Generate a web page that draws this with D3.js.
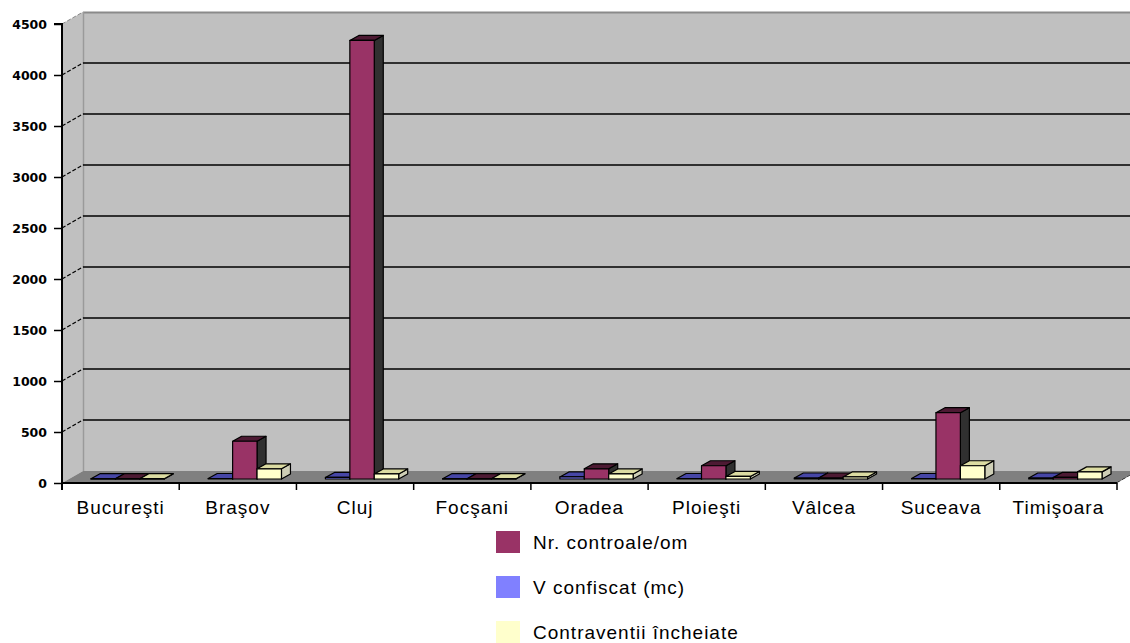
<!DOCTYPE html>
<html><head><meta charset="utf-8">
<script src="https://cdn.jsdelivr.net/npm/d3@7"></script>
<style>
html,body{margin:0;padding:0;background:#fff;}
svg{display:block;}
.cat{font-family:"Liberation Sans",Arial,sans-serif;font-size:19px;letter-spacing:1px;fill:#000;}
.ytl{font-family:"DejaVu Sans",sans-serif;font-weight:bold;font-size:12.5px;fill:#000;}
</style></head>
<body>
<svg id="c" width="1130" height="643"></svg>
<script>
const categories = ["Bucureşti","Braşov","Cluj","Focşani","Oradea","Ploieşti","Vâlcea","Suceava","Timişoara"];
const barSeries = ["V confiscat (mc)","Nr. controale/om","Contraventii încheiate"];
const vConfiscat   = [3, 5, 15, 3, 20, 5, 10, 5, 10];
const nrControale  = [3, 370, 4300, 3, 100, 130, 10, 650, 15];
const contraventii = [3, 100, 50, 3, 50, 25, 20, 130, 70];
const legendOrder = ["Nr. controale/om","V confiscat (mc)","Contraventii încheiate"];
const yTicks = [0,500,1000,1500,2000,2500,3000,3500,4000,4500];

const seriesValues = {"V confiscat (mc)":vConfiscat,"Nr. controale/om":nrControale,"Contraventii încheiate":contraventii};
const colors = {
  "V confiscat (mc)":      {front:"#8080ff", top:"#4646a6", side:"#3a3a70"},
  "Nr. controale/om":      {front:"#993366", top:"#4d1a33", side:"#303030"},
  "Contraventii încheiate":{front:"#ffffcc", top:"#dcdca2", side:"#cfcfb6"}
};

const svg = d3.select("#c");
const x0 = 62, x1 = 1117, yBase = 483, yTopAx = 24;
const DX = 21, DY = -12;           // full depth offset
const fBar = 1/3;                  // bar front plane depth fraction
const bdx = 9, bdy = -5;           // bar depth

const x = d3.scaleBand().domain(categories).range([x0, x1]).paddingInner(0).paddingOuter(0);
const y = d3.scaleLinear().domain([0,4500]).range([yBase, yTopAx]);
const xs = d3.scaleBand().domain(barSeries).range([0, x.bandwidth()]).paddingInner(0).paddingOuter(0.9);

const pts = a => a.map(p=>p.join(",")).join(" ");

// back wall
svg.append("polygon").attr("points", pts([[x0+DX,yTopAx+DY],[1145,yTopAx+DY],[1145,yBase+DY],[x0+DX,yBase+DY]]))
  .attr("fill","#c0c0c0");
// side wall
svg.append("polygon").attr("points", pts([[x0,yTopAx],[x0+DX,yTopAx+DY],[x0+DX,yBase+DY],[x0,yBase]]))
  .attr("fill","#c0c0c0");
// back wall top border & left edge
svg.append("line").attr("x1",x0+DX).attr("x2",1145).attr("y1",yTopAx+DY+0.5).attr("y2",yTopAx+DY+0.5)
  .attr("stroke","#8a8a8a").attr("stroke-width",2);
svg.append("line").attr("x1",x0+DX+0.5).attr("x2",x0+DX+0.5).attr("y1",yTopAx+DY).attr("y2",yBase+DY)
  .attr("stroke","#9a9a9a").attr("stroke-width",1.5);
svg.append("line").attr("x1",x0).attr("y1",yTopAx).attr("x2",x0+DX).attr("y2",yTopAx+DY)
  .attr("stroke","#8a8a8a").attr("stroke-width",1).attr("stroke-dasharray","4,2");

// gridlines
yTicks.filter(t=>t>0 && t<4500).forEach(t=>{
  const yy = y(t);
  svg.append("line").attr("x1",x0+DX).attr("x2",1145).attr("y1",yy+DY).attr("y2",yy+DY)
    .attr("stroke","#000").attr("stroke-width",1.5);
  svg.append("line").attr("x1",x0).attr("y1",yy).attr("x2",x0+DX).attr("y2",yy+DY)
    .attr("stroke","#000").attr("stroke-width",1.2).attr("stroke-dasharray","4,2");
});

// floor
svg.append("polygon").attr("points", pts([[x0,yBase],[x0+DX,yBase+DY],[1145,yBase+DY],[1145,yBase]]))
  .attr("fill","#808080");
svg.append("line").attr("x1",x1).attr("y1",yBase).attr("x2",x1+DX).attr("y2",yBase+DY)
  .attr("stroke","#000").attr("stroke-width",1.2).attr("stroke-dasharray","4,2");
svg.append("polygon").attr("points", pts([[x1,yBase],[x1+DX,yBase+DY],[1145,yBase+DY],[1145,yBase+2]]))
  .attr("fill","#fff");

// bars
const ox = DX*fBar, oy = DY*fBar;
const yb = v => y(v) + oy;
categories.forEach((c,i)=>{
  barSeries.forEach(s=>{
    const v = seriesValues[s][i];
    const bx = x(c) + ox + xs(s), w = xs.bandwidth();
    const top = yb(v), bot = yb(0);
    const col = colors[s];
    const g = svg.append("g").attr("stroke","#000").attr("stroke-width",1.2).attr("stroke-linejoin","round");
    g.append("polygon").attr("points", pts([[bx+w,top],[bx+w+bdx,top+bdy],[bx+w+bdx,bot+bdy],[bx+w,bot]])).attr("fill",col.side);
    g.append("polygon").attr("points", pts([[bx,top],[bx+bdx,top+bdy],[bx+w+bdx,top+bdy],[bx+w,top]])).attr("fill",col.top);
    g.append("rect").attr("x",bx).attr("y",top).attr("width",w).attr("height",Math.max(0.5,bot-top)).attr("fill",col.front);
  });
});

// front floor edge & category axis
svg.append("line").attr("x1",x0).attr("x2",x1).attr("y1",yBase).attr("y2",yBase).attr("stroke","#000").attr("stroke-width",2);
const bounds = categories.map(c=>x(c)).concat([x1]);
bounds.forEach(b=>{
  svg.append("line").attr("x1",b).attr("x2",b).attr("y1",yBase).attr("y2",yBase+7).attr("stroke","#000").attr("stroke-width",1.5);
});
svg.selectAll("text.cat").data(categories).enter().append("text").attr("class","cat")
  .attr("x",c=>x(c)+x.bandwidth()/2).attr("y",514).attr("text-anchor","middle").text(c=>c);

// value axis
const yAxis = d3.axisLeft(y).tickValues(yTicks).tickSize(8).tickPadding(7).tickFormat(d3.format("d"));
const ga = svg.append("g").attr("transform",`translate(${x0},0)`).call(yAxis);
ga.select(".domain").attr("stroke","#000").attr("stroke-width",2).attr("d",`M-8,${yTopAx}H0V${yBase+7}`);
ga.selectAll(".tick line").attr("stroke","#000").attr("stroke-width",1.5);
ga.selectAll(".tick text").attr("class","ytl").attr("font-family",null).attr("font-size",null);

// legend
const lg = svg.append("g");
legendOrder.forEach((s,i)=>{
  const yy = 531 + i*45;
  lg.append("rect").attr("x",496).attr("y",yy).attr("width",24).attr("height",22).attr("fill",colors[s].front);
  lg.append("text").attr("class","cat").attr("x",533).attr("y",yy+18).text(s);
});
</script>
</body></html>
